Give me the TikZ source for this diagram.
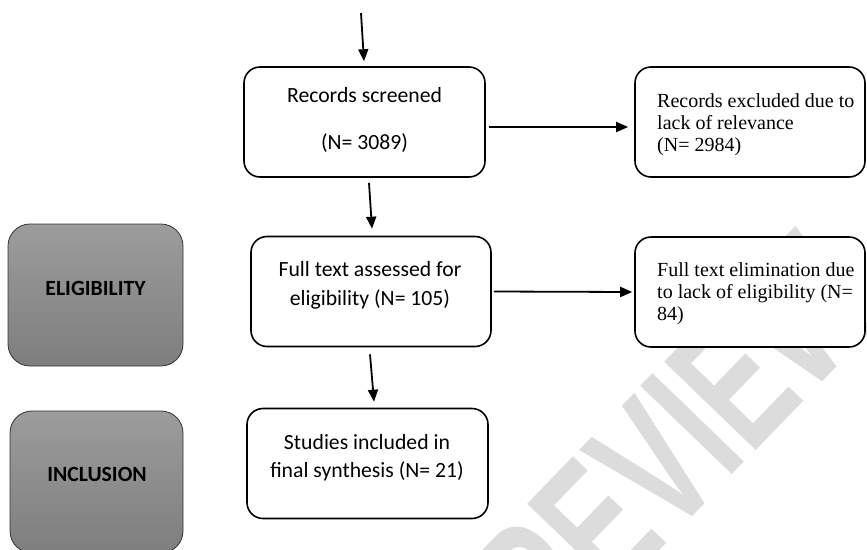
\documentclass[tikz,border=0pt]{standalone}
\usepackage{graphicx}
\usepackage{fontspec}
\setmainfont{Carlito}
\newfontfamily\tnrfam{Liberation Serif}
\newfontfamily\wmfam{Liberation Sans}
\usetikzlibrary{arrows.meta}
\definecolor{gtop}{HTML}{9C9C9C}
\definecolor{gbot}{HTML}{7E7E7E}
\definecolor{wmcol}{HTML}{DCDCDC}
\begin{document}
\begin{tikzpicture}[x=1pt,y=-1pt,
  flowbox/.style={draw, fill=white, line width=1.6pt, rounded corners=16pt, minimum width=#1, minimum height=110pt, inner sep=0pt},
  sidebox/.style={draw=black!80, line width=0.8pt, rounded corners=22pt, top color=gtop, bottom color=gbot, minimum width=#1, minimum height=142pt, inner sep=0pt},
  caltxt/.style={anchor=base, inner sep=0pt, font=\fontsize{21.7}{29}\selectfont},
  boldtxt/.style={anchor=base, inner sep=0pt, font=\fontsize{21.7}{29}\selectfont\bfseries},
  tnrtxt/.style={anchor=base west, inner sep=0pt, align=left, font=\tnrfam\fontsize{20}{22.5}\selectfont},
  arr/.style={line width=1.8pt, -{Triangle[length=12pt,width=10pt]}}
]
\useasboundingbox (0,0) rectangle (867,549);
% watermark
\begin{scope}
\clip (0,0) rectangle (867,549);
\node[text=wmcol, rotate=46, inner sep=0pt, font=\wmfam\bfseries\fontsize{185}{185}\selectfont] (wm) at (674,444) {\scalebox{0.66}[1]{REVIEW}};
\end{scope}

% main boxes
\node[flowbox=241pt] (b1) at (364.5,122) {};
\node[flowbox=240pt] (b2) at (371,291.5) {};
\node[flowbox=241pt] (b3) at (367.5,463.5) {};
\node[flowbox=230pt] (r1) at (750,122) {};
\node[flowbox=230pt] (r2) at (750,292) {};
\node[sidebox=175pt] (s1) at (95.5,295) {};
\node[sidebox=173pt] (s2) at (96.5,482) {};

% texts
\node[caltxt] (t1a) at (364.5,102.5) {Records screened};
\node[caltxt] (t1b) at (364.5,149) {(N= 3089)};
\node[caltxt] (t2a) at (370,276.7) {Full text assessed for};
\node[caltxt] (t2b) at (370,305.7) {eligibility (N= 105)};
\node[caltxt] (t3a) at (367,449) {Studies included in};
\node[caltxt] (t3b) at (367,477.5) {final synthesis (N= 21)};
\node[tnrtxt] (tr1a) at (657,107.3) {Records excluded due to};
\node[tnrtxt] (tr1b) at (657,129.5) {lack of relevance};
\node[tnrtxt] (tr1c) at (657,151.8) {(N= 2984)};
\node[tnrtxt] (tr2a) at (657,276.7) {Full text elimination due};
\node[tnrtxt] (tr2b) at (657,298.5) {to lack of eligibility (N=};
\node[tnrtxt] (tr2c) at (657,320.7) {84)};
\node[boldtxt] (ts1) at (95.5,295) {ELIGIBILITY};
\node[boldtxt] (ts2) at (97,481) {INCLUSION};

% connectors
\coordinate (start) at (361,13);
\draw[arr] (start) -- ([xshift=-0.5pt,yshift=5pt]b1.north);
\draw[arr] ([xshift=4.5pt,yshift=-5pt]b1.south) -- ([xshift=1pt,yshift=7pt]b2.north);
\draw[arr] ([xshift=-1pt,yshift=-7pt]b2.south) -- ([xshift=6.5pt,yshift=6pt]b3.north);
\draw[arr] ([xshift=3pt,yshift=-5pt]b1.east) -- ([xshift=-6pt,yshift=-5pt]r1.west);
\draw[arr] ([xshift=2pt]b2.east) -- ([xshift=-2pt]r2.west);
\end{tikzpicture}
\end{document}
